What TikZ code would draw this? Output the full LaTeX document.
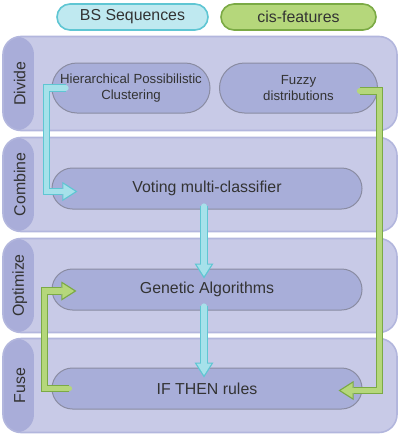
\documentclass[tikz,border=0pt]{standalone}
\usepackage{fontspec}
\setmainfont{Liberation Sans}
\usetikzlibrary{shapes,shapes.misc,arrows.meta,calc}
\definecolor{bandfill}{HTML}{C8CAE7}
\definecolor{bandline}{HTML}{B2B6DD}
\definecolor{stripfill}{HTML}{A9ADD9}
\definecolor{pillfill}{HTML}{A8AED9}
\definecolor{pillline}{HTML}{8A8CA2}
\definecolor{cyanfill}{HTML}{BFE9F0}
\definecolor{cyanline}{HTML}{5FC6D3}
\definecolor{cyanarr}{HTML}{A6E1EA}
\definecolor{greenfill}{HTML}{B5D77B}
\definecolor{greenline}{HTML}{7BAA45}
\definecolor{txt}{HTML}{333333}
\tikzset{
  x=0.25mm, y=-0.25mm,
  bignode/.style = {font=\fontsize{11.3}{13}\selectfont, text=txt, align=center, inner sep=0pt},
  smallnode/.style = {font=\fontsize{9.4}{11.4}\selectfont, text=txt, align=center, inner sep=0pt},
  band_n/.style = {rectangle, rounded corners=4.5mm, draw=bandline, line width=0.4mm, fill=bandfill,
    minimum width=98.5mm, minimum height=23.5mm, inner sep=0pt,
    path picture={\fill[stripfill] (path picture bounding box.south west) rectangle ([xshift=7.75mm]path picture bounding box.north west);}},
  band_l/.style = {bignode, rotate=90},
  src_c/.style = {bignode, rounded rectangle, draw=cyanline, fill=cyanfill, line width=0.4mm, minimum height=6.5mm},
  src_g/.style = {bignode, rounded rectangle, draw=greenline, fill=greenfill, line width=0.4mm, minimum height=6.5mm},
  step_s/.style = {smallnode, rounded rectangle, draw=pillline, fill=pillfill, line width=0.25mm, minimum width=39.5mm, minimum height=12.5mm},
  step_b/.style = {bignode, rounded rectangle, draw=pillline, fill=pillfill, line width=0.25mm, minimum width=77.5mm, minimum height=10.25mm},
  arr/.style 2 args = {draw=#1, line width=1.3mm, line cap=round, shorten >=0.6mm,
    -{Triangle[length=2.9mm,width=3.7mm,line width=0pt]},
    preaction={draw=#2, line width=1.9mm, shorten >=0pt, -{Triangle[length=3.75mm,width=4.75mm,line width=0pt]}}},
  arr_c/.style = {arr={cyanarr}{cyanline}},
  arr_g/.style = {arr={greenfill}{greenline}}
}
\begin{document}
\begin{tikzpicture}
\useasboundingbox (0,0) rectangle (400,437);
\node [src_c, minimum width=37.75mm] (bs) at (132.5,17) {BS Sequences};
\node [src_g, minimum width=38.75mm] (cis) at (298.5,17) {cis-features};

\node [band_n] (divide) at (200,83.5) {};
\node [band_n] (combine) at (200,184.5) {};
\node [band_n] (optimize) at (200,285.5) {};
\node [band_n] (fuse) at (200,385.5) {};
\node [band_l] (divide_l) at ([xshift=4.4mm]divide.west) {Divide};
\node [band_l] (combine_l) at ([xshift=4.4mm]combine.west) {Combine};
\node [band_l] (optimize_l) at ([xshift=4.4mm]optimize.west) {Optimize};
\node [band_l] (fuse_l) at ([xshift=4.4mm]fuse.west) {Fuse};

\node [step_s] (hpc) at (131,88) {Hierarchical Possibilistic\\Clustering};
\node [step_s] (fuzzy) at (298.5,88) {Fuzzy\\distributions};
\node [step_b] (vote) at (207,188.5) {Voting multi-classifier};
\node [step_b] (gen) at (207,289.5) {Genetic Algorithms};
\node [step_b] (rules) at (207,388.5) {IF THEN rules};

\draw [arr_c] ($(hpc.west)+(14.5,0)$) -- ($(hpc.west)+(-5,0)$) |- ($(vote.west)+(26,3)$);
\draw [arr_c] ($(vote.south)+(-3,-3.5)$) -- ($(gen.north)+(-3,10)$);
\draw [arr_c] ($(gen.south)+(-3,-4.5)$) -- ($(rules.north)+(-3,10)$);
\draw [arr_g] ($(fuzzy.east)+(-18.5,3)$) -- ($(fuzzy.east)+(1.5,3)$) |- ($(rules.east)+(-24,2)$);
\draw [arr_g] ($(rules.west)+(18,0)$) -- ($(rules.west)+(-7,0)$) |- ($(gen.west)+(25,1.5)$);
\end{tikzpicture}
\end{document}
